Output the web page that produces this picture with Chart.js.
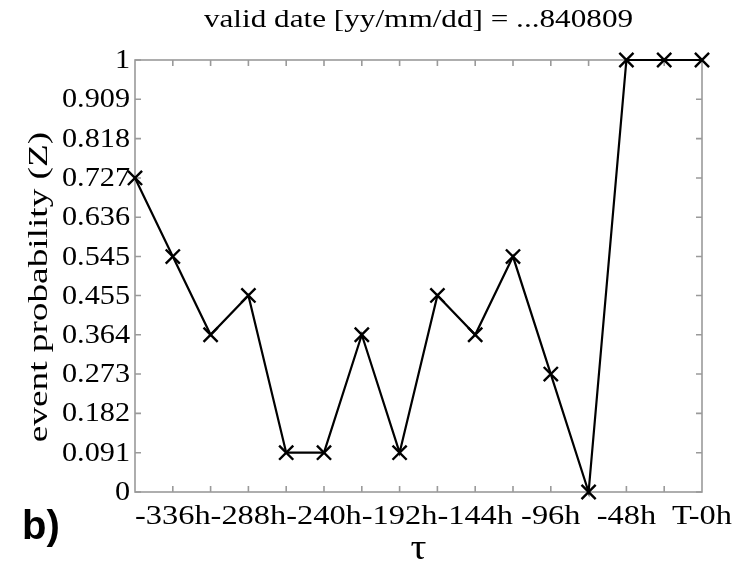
<!DOCTYPE html>
<html>
<head>
<meta charset="utf-8">
<script src="https://cdn.jsdelivr.net/npm/chart.js@4/dist/chart.umd.min.js"></script>
<style>
  html, body { margin: 0; padding: 0; background: #ffffff; }
  #wrap { width: 740px; height: 569px; }
</style>
</head>
<body>
<div id="wrap"><canvas id="c" width="740" height="569"></canvas></div>
<script>
// lead time in hours before the valid date
const leadHours = [-360, -336, -312, -288, -264, -240, -216, -192, -168, -144, -120, -96, -72, -48, -24, 0];
// event probability Z at each lead time
const eventProb = [0.727, 0.545, 0.364, 0.455, 0.091, 0.091, 0.364, 0.091, 0.455, 0.364, 0.545, 0.273, 0, 1, 1, 1];

// axis tick positions and labels
const xTickValues = [-336, -312, -288, -264, -240, -216, -192, -168, -144, -120, -96, -72, -48, -24];
const xLabelValues = [-336, -288, -240, -192, -144, -96, -48, 0];
const xLabelText = ['-336h', '-288h', '-240h', '-192h', '-144h', '-96h', '-48h', 'T-0h'];
const yTickValues = [0, 0.091, 0.182, 0.273, 0.364, 0.455, 0.545, 0.636, 0.727, 0.818, 0.909, 1];
const yTickText = ['0', '0.091', '0.182', '0.273', '0.364', '0.455', '0.545', '0.636', '0.727', '0.818', '0.909', '1'];

const titleText = 'valid date [yy/mm/dd] = ...840809';
const xTitle = '\u03C4';
const yTitle = 'event probability (Z)';
const panelTag = 'b)';

const SERIF = '"Liberation Serif", "Times New Roman", serif';

// text with a horizontal stretch along its reading direction
function wideText(ctx, str, x, y, o) {
  ctx.save();
  ctx.translate(x, y);
  if (o.rotate) ctx.rotate(-Math.PI / 2);
  ctx.scale(o.k || 1, 1);
  ctx.font = o.font;
  ctx.fillStyle = o.color || '#000';
  ctx.textAlign = o.align || 'center';
  ctx.textBaseline = o.baseline || 'middle';
  ctx.fillText(str, 0, 0);
  ctx.restore();
}

// frame, inward ticks and all labels
const framePlugin = {
  id: 'frame',
  beforeDatasetsDraw(chart) {
    const { ctx, chartArea: a, scales: { x, y } } = chart;
    ctx.save();
    ctx.strokeStyle = '#9a9a9a';
    ctx.lineWidth = 1.6;
    const tl = 6;
    ctx.beginPath();
    xTickValues.forEach(v => {
      const px = x.getPixelForValue(v);
      ctx.moveTo(px, a.bottom); ctx.lineTo(px, a.bottom - tl);
      ctx.moveTo(px, a.top); ctx.lineTo(px, a.top + tl);
    });
    yTickValues.forEach(v => {
      const py = y.getPixelForValue(v);
      ctx.moveTo(a.left, py); ctx.lineTo(a.left + tl, py);
      ctx.moveTo(a.right, py); ctx.lineTo(a.right - tl, py);
    });
    ctx.stroke();
    ctx.strokeRect(a.left, a.top, a.right - a.left, a.bottom - a.top);
    ctx.restore();
  },
  afterDraw(chart) {
    const { ctx, chartArea: a, scales: { x, y } } = chart;
    const tickFont = '27px ' + SERIF;
    yTickValues.forEach((v, i) => {
      wideText(ctx, yTickText[i], a.left - 5, y.getPixelForValue(v) + 1,
        { font: tickFont, k: 1.12, align: 'right' });
    });
    xLabelValues.forEach((v, i) => {
      wideText(ctx, xLabelText[i], x.getPixelForValue(v), a.bottom + 25,
        { font: tickFont, k: 1.2 });
    });
    const cx = (a.left + a.right) / 2;
    wideText(ctx, titleText, cx, 20, { font: '26px ' + SERIF, k: 1.2 });
    wideText(ctx, xTitle, cx, a.bottom + 58, { font: '36px ' + SERIF, k: 1.1 });
    wideText(ctx, yTitle, 40, 287,
      { font: '27px ' + SERIF, k: 1.38, rotate: true });
    wideText(ctx, panelTag, 41, 528,
      { font: 'bold 40px "Liberation Sans", Arial, sans-serif', k: 1 });
  }
};

new Chart(document.getElementById('c'), {
  type: 'line',
  data: {
    datasets: [{
      data: leadHours.map((h, i) => ({ x: h, y: eventProb[i] })),
      borderColor: '#000',
      borderWidth: 2.2,
      pointStyle: 'crossRot',
      pointRadius: 10,
      pointBorderWidth: 2.4,
      pointBorderColor: '#000',
      pointBackgroundColor: '#000',
      tension: 0,
      clip: false
    }]
  },
  options: {
    responsive: false,
    animation: false,
    devicePixelRatio: 1,
    layout: { padding: { left: 135, right: 38, top: 60, bottom: 77 } },
    plugins: { legend: { display: false }, tooltip: { enabled: false }, title: { display: false } },
    scales: {
      x: {
        type: 'linear', min: -360, max: 0,
        grid: { display: false }, border: { display: false },
        ticks: { display: false },
        afterFit(s) { s.height = 0; }
      },
      y: {
        type: 'linear', min: 0, max: 1,
        grid: { display: false }, border: { display: false },
        ticks: { display: false },
        afterFit(s) { s.width = 0; }
      }
    }
  },
  plugins: [framePlugin]
});
</script>
</body>
</html>
